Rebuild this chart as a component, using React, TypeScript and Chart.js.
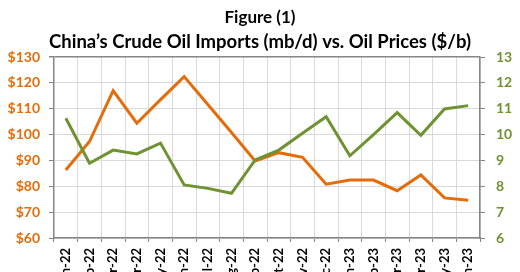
import React, { useEffect, useRef } from "react";
import { Chart, registerables } from "chart.js";

Chart.register(...registerables);

const months = [
  "Jan-22", "Feb-22", "Mar-22", "Apr-22", "May-22", "Jun-22", "Jul-22", "Aug-22", "Sep-22",
  "Oct-22", "Nov-22", "Dec-22", "Jan-23", "Feb-23", "Mar-23", "Apr-23", "May-23", "Jun-23",
];
const oilPrices = [86.3, 97.3, 117.0, 104.4, 113.5, 122.4, 111.6, 100.8, 89.8, 93.0, 91.2, 80.8, 82.4, 82.4, 78.3, 84.4, 75.5, 74.6];
const crudeImports = [10.63, 8.89, 9.4, 9.25, 9.67, 8.05, 7.92, 7.73, 9.02, 9.4, 10.05, 10.69, 9.18, 10.0, 10.85, 9.97, 10.99, 11.12];

const titleText = "Figure (1)";
const subtitleText = "China\u2019s Crude Oil Imports (mb/d) vs. Oil Prices ($/b)";

const ORANGE = "#E46C0A";
const GREEN = "#6F9232";
const AXIS = "#868686";
const GRID = "#D9D9D9";

export default function App() {
  const ref = useRef<HTMLCanvasElement | null>(null);
  useEffect(() => {
    if (!ref.current) return;
    const chart = new Chart(ref.current, {
      type: "line",
      data: {
        labels: months,
        datasets: [
          {
            label: "Oil Prices ($/b)",
            data: oilPrices,
            borderColor: ORANGE,
            backgroundColor: ORANGE,
            borderWidth: 3,
            pointRadius: 0,
            tension: 0,
            yAxisID: "y",
            order: 1,
          },
          {
            label: "China's Crude Oil Imports (mb/d)",
            data: crudeImports,
            borderColor: GREEN,
            backgroundColor: GREEN,
            borderWidth: 3,
            pointRadius: 0,
            tension: 0,
            yAxisID: "y1",
            order: 0,
          },
        ],
      },
      options: {
        animation: false,
        responsive: true,
        maintainAspectRatio: false,
        layout: { padding: 0 },
        plugins: {
          legend: { display: false },
          tooltip: { enabled: false },
          title: {
            display: true,
            text: titleText,
            color: "#000000",
            font: { family: "Lato", size: 17, weight: "bold", lineHeight: 1.45 },
            padding: { top: 5, bottom: 0 },
          },
          subtitle: {
            display: true,
            text: subtitleText,
            color: "#000000",
            font: { family: "Lato", size: 18.5, weight: "bold", lineHeight: 1.3 },
            padding: { top: 0, bottom: 3.3 },
          },
        },
        scales: {
          x: {
            type: "category",
            offset: true,
            grid: {
              offset: true,
              color: GRID,
              tickColor: AXIS,
              tickLength: 4,
              lineWidth: 1,
            },
            border: { color: AXIS, width: 1.5 },
            ticks: {
              minRotation: 90,
              maxRotation: 90,
              autoSkip: false,
              padding: 6,
              color: "#000000",
              font: { family: "Lato", size: 13, weight: "bold" },
            },
            afterFit: (s: any) => {
              s.height = 62;
            },
          },
          y: {
            position: "left",
            min: 60,
            max: 130,
            ticks: {
              stepSize: 10,
              padding: 9,
              color: ORANGE,
              font: { family: "Lato", size: 14, weight: "bold" },
              callback: (v: any) => "$" + v,
            },
            grid: {
              color: (ctx: any) => (ctx.tick && ctx.tick.value === 130 ? AXIS : GRID),
              tickColor: AXIS,
              tickLength: 5,
              lineWidth: (ctx: any) => (ctx.tick && ctx.tick.value === 130 ? 1.5 : 1),
            },
            border: { color: AXIS, width: 1.5 },
            afterFit: (s: any) => {
              s.width = 54;
            },
          },
          y1: {
            position: "right",
            min: 6,
            max: 13,
            ticks: {
              stepSize: 1,
              padding: 11,
              color: GREEN,
              font: { family: "Lato", size: 14, weight: "bold" },
            },
            grid: {
              drawOnChartArea: false,
              tickColor: AXIS,
              tickLength: 5,
            },
            border: { color: AXIS, width: 1.5 },
            afterFit: (s: any) => {
              s.width = 40;
            },
          },
        },
      },
    });
    return () => chart.destroy();
  }, []);

  return (
    <div style={{ position: "fixed", left: 0, top: 0, width: 520, height: 272, overflow: "hidden", background: "#fff" }}>
      <div style={{ position: "relative", width: 520, height: 300 }}>
        <canvas ref={ref} />
      </div>
    </div>
  );
}
